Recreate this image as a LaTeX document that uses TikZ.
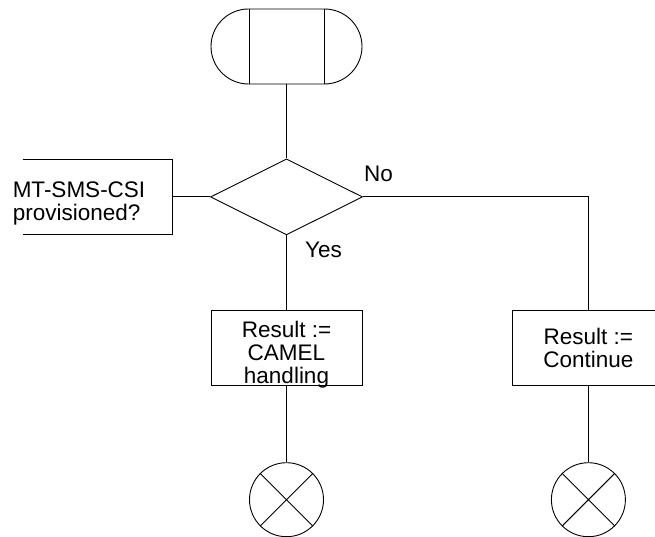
\documentclass[tikz,border=0pt]{standalone}
\usepackage{fontspec}
\setmainfont{Liberation Sans}
\usetikzlibrary{positioning,shapes.geometric,shapes.misc}
\newcommand\sdlfont{\fontsize{22.5pt}{23pt}\selectfont}
\tikzset{
  term/.style={rounded rectangle, draw, line width=0.9pt, minimum width=151pt,
               minimum height=75pt, inner sep=0pt},
  decision/.style={diamond, draw, line width=0.9pt, aspect=2, minimum width=152pt,
                   minimum height=76pt, inner sep=0pt},
  taskbox/.style={rectangle, draw, line width=0.9pt, minimum width=151pt,
                  minimum height=75pt, inner sep=0pt, align=center, font=\sdlfont},
  exitsym/.style={circle, draw, line width=0.9pt, minimum size=74pt, inner sep=0pt},
  lbl/.style={font=\sdlfont, align=center, inner sep=0pt},
  flow/.style={draw, line width=0.9pt}
}
\begin{document}
\begin{tikzpicture}[x=1pt, y=-1pt, node distance=75pt]
 \useasboundingbox (0,0) rectangle (655,537);
 \node[term] (start) at (286.5,46.5) {};
 \draw[flow] ([xshift=-37.5pt]start.north) -- ([xshift=-37.5pt]start.south)
             ([xshift=37.5pt]start.north) -- ([xshift=37.5pt]start.south);
 \node[decision, below=74pt of start] (dec) {};
 % comment bracket on the left
 \coordinate[left=37.5pt of dec.west] (notebar);
 \draw[flow] ([shift={(-150,-37.5)}]notebar) -| ([shift={(0,37.5)}]notebar) -- ++(-150,0);
 \node[lbl, align=left, anchor=west] (note) at ([shift={(-160,6.5)}]notebar) {MT-SMS-CSI\\provisioned?};
 \node[taskbox, below=75pt of dec,
       label={[lbl, yshift=-6pt]center:{Result :=\\CAMEL\\handling}}] (camel) {};
 \node[taskbox, right=150pt of camel] (cont) {Result :=\\Continue};
 \node[exitsym, below=76pt of camel] (endA) {};
 \node[exitsym, below=76pt of cont] (endB) {};
 \foreach \e in {endA,endB}
   \draw[flow] (\e.north west) -- (\e.south east) (\e.north east) -- (\e.south west);
 \draw[flow] (notebar) -- (dec.west);
 \draw[flow] (start) -- (dec);
 \draw[flow] (dec) -- (camel);
 \draw[flow] (dec.east) -| (cont.north);
 \draw[flow] (camel) -- (endA);
 \draw[flow] (cont) -- (endB);
 \node[lbl, anchor=base west] (no) at ([shift={(1,-15)}]dec.east) {No};
 \node[lbl, anchor=base west] (yes) at ([shift={(18.5,22.5)}]dec.south) {Yes};
\end{tikzpicture}
\end{document}
